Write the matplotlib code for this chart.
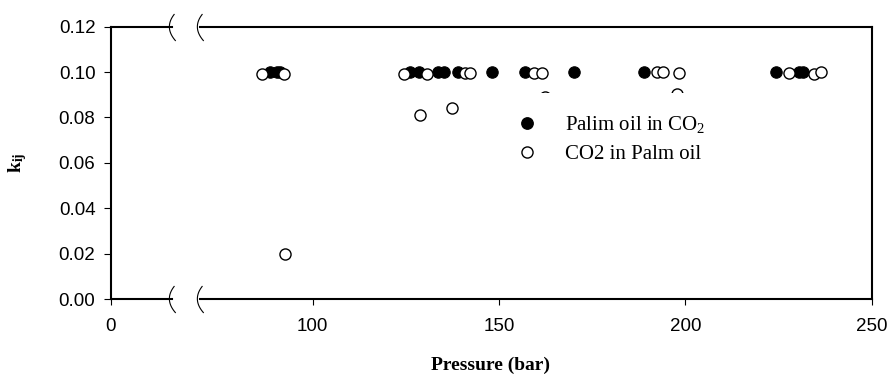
import numpy as np
import matplotlib
matplotlib.use("Agg")
import matplotlib.pyplot as plt
from matplotlib.path import Path
from matplotlib.lines import Line2D

plt.rcParams["font.family"] = ["Liberation Sans", "DejaVu Sans"]
plt.rcParams["mathtext.fontset"] = "custom"
plt.rcParams["mathtext.rm"] = "Liberation Serif"
plt.rcParams["mathtext.it"] = "Liberation Serif:italic"
plt.rcParams["mathtext.bf"] = "Liberation Serif:bold"

# data
palm_in_co2_p = [88.5, 90.4, 91.2, 126.2, 128.4, 133.5, 135.3, 139.1, 148.1,
                 157.1, 170.2, 188.9, 224.3, 230.5, 231.5]
palm_in_co2_k = [0.100] * len(palm_in_co2_p)

co2_in_palm_p = [86.4, 92.3, 92.6, 124.4, 128.8, 130.6, 137.4, 140.9, 142.1,
                 159.3, 161.6, 162.4, 192.5, 194.0, 197.7, 198.2, 227.9,
                 234.4, 236.4]
co2_in_palm_k = [0.099, 0.099, 0.020, 0.099, 0.081, 0.099, 0.084, 0.0995,
                 0.0995, 0.0995, 0.0995, 0.089, 0.100, 0.100, 0.0905, 0.0995,
                 0.0995, 0.099, 0.100]

yticks = [0.00, 0.02, 0.04, 0.06, 0.08, 0.10, 0.12]
xticks_left = [0]
xticks_right = [100, 150, 200, 250]

W, H = 890, 374
fig = plt.figure(figsize=(W / 100, H / 100), dpi=100)

x0, xb1, xb2, x1 = 110.7, 171.7, 200.0, 871.7
ytop, ybot = 26.7, 299.0
px_per_unit = (x1 - 312.7) / 150.0

axl = fig.add_axes([x0 / W, 1 - ybot / H, (xb1 - x0) / W, (ybot - ytop) / H])
axr = fig.add_axes([xb2 / W, 1 - ybot / H, (x1 - xb2) / W, (ybot - ytop) / H], sharey=axl)

axl.set_xlim(0, (xb1 - x0) / px_per_unit)
axr.set_xlim(250 - (x1 - xb2) / px_per_unit, 250)
axl.set_ylim(0, 0.12)

for ax in (axl, axr):
    for s in ax.spines.values():
        s.set_linewidth(1.5)
    ax.tick_params(direction="out", length=4.5, width=0.8, labelsize=13.5, pad=9)

axl.spines["right"].set_visible(False)
axr.spines["left"].set_visible(False)
axl.set_xticks(xticks_left)
axr.set_xticks(xticks_right)
axl.set_yticks(yticks)
axl.set_yticklabels([f"{v:.2f}" for v in yticks])
axl.tick_params(axis="y", length=5, pad=6)
axr.tick_params(axis="y", left=False, labelleft=False)

for ax in (axl, axr):
    ax.plot(palm_in_co2_p, palm_in_co2_k, "o", ls="none", color="black",
            ms=8.2, mew=0.8, zorder=3)
    ax.plot(co2_in_palm_p, co2_in_palm_k, "o", ls="none", mfc="white",
            mec="black", ms=8.0, mew=1.0, zorder=3)

# axis break marks
t = np.linspace(-1, 1, 40)
brk = Path(np.column_stack([-3 + 5.5 * t ** 2 + 0.6 * t, -13 * t]))
for ax, xa in ((axl, 1.0), (axr, 0.0)):
    for ya in (0.0, 1.0):
        ax.plot([xa], [ya], transform=ax.transAxes, marker=brk, ms=19.4,
                mfc="none", mec="black", mew=0.8, clip_on=False, zorder=6)

handles = [
    Line2D([], [], ls="none", marker="o", color="black", ms=8.2),
    Line2D([], [], ls="none", marker="o", mfc="white", mec="black", ms=8.0, mew=1.0),
]
leg = axr.legend(handles, [r"Palim oil in CO$_\mathrm{2}$", "CO2 in Palm oil"],
                 loc="upper left", bbox_to_anchor=(485 / W, 1 - 93 / H),
                 bbox_transform=fig.transFigure, frameon=True, fancybox=False,
                 edgecolor="none", facecolor="white", framealpha=1,
                 prop={"family": "Liberation Serif", "size": 15},
                 borderpad=1.02, handlelength=2.0, handletextpad=0.8,
                 labelspacing=0.45, borderaxespad=0)
leg.set_zorder(5)

fig.text(18 / W, 1 - 163 / H, r"k$_\mathbf{ij}$", rotation=90, ha="center",
         va="center", fontsize=14, fontweight="bold", family="Liberation Serif")
fig.text(491 / W, 1 - 365 / H, "Pressure (bar)", ha="center", va="center",
         fontsize=14, fontweight="bold", family="Liberation Serif")

fig.savefig("out.png", dpi=100)
